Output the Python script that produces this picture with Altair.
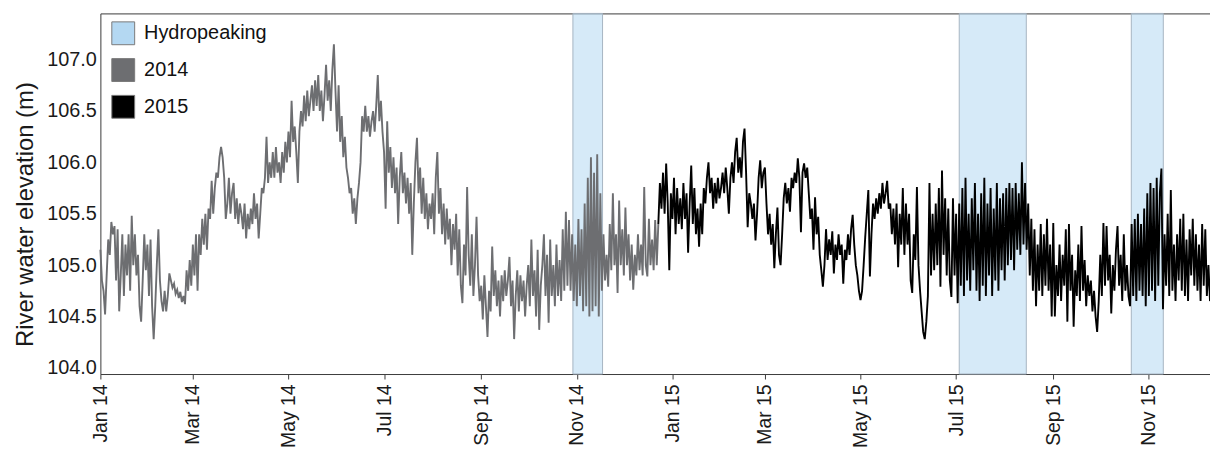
import altair as alt
import pandas as pd

# Daily river water elevation (m), one list per month
jan14 = [105.15, 104.85, 104.75, 104.52, 104.9, 105.25, 105.1, 105.42, 105.3, 105.38, 104.85, 105.35, 104.55, 104.9, 105.3, 104.7,
         105.2, 104.9, 105.3, 104.75, 105.48, 105.0, 105.3, 104.9, 105.1, 104.6, 104.45, 104.85, 105.3, 104.95, 105.2]
feb14 = [104.7, 105.25, 104.6, 104.28, 104.6, 105.0, 105.35, 104.85, 104.65, 104.55, 104.75, 104.55, 104.7, 104.92, 104.85, 104.78,
         104.82, 104.72, 104.76, 104.68, 104.74, 104.64, 104.7, 104.62, 104.95, 104.75, 105.05, 104.8]
mar14 = [105.2, 104.9, 105.3, 104.75, 105.3, 105.1, 105.45, 105.2, 105.5, 105.15, 105.55, 105.45, 105.82, 105.5, 105.75, 105.9,
         105.85, 106.05, 106.15, 106.05, 105.85, 105.45, 105.6, 105.85, 105.5, 105.7, 105.8, 105.45, 105.65, 105.4, 105.6]
apr14 = [105.5, 105.35, 105.6, 105.26, 105.5, 105.35, 105.55, 105.4, 105.7, 105.45, 105.6, 105.26, 105.5, 105.75, 105.7, 105.85,
         106.25, 105.8, 106.0, 105.85, 106.1, 105.85, 106.15, 105.9, 106.0, 105.8, 106.1, 105.9, 106.2, 106.0]
may14 = [106.3, 106.05, 106.6, 106.2, 106.35, 106.1, 105.8, 106.3, 106.5, 106.35, 106.65, 106.4, 106.7, 106.45, 106.6, 106.75,
         106.5, 106.8, 106.55, 106.85, 106.5, 106.7, 106.4, 106.65, 106.95, 106.6, 106.8, 106.5, 106.9, 107.15, 106.7]
jun14 = [106.3, 106.75, 106.2, 106.45, 106.05, 106.25, 105.95, 105.85, 105.7, 105.75, 105.5, 105.65, 105.4, 105.65, 105.8, 106.0,
         106.45, 106.3, 106.55, 106.3, 106.45, 106.25, 106.4, 106.5, 106.3, 106.55, 106.85, 106.4, 106.6, 106.3]
jul14 = [106.1, 105.55, 106.4, 105.9, 106.15, 105.75, 106.05, 105.7, 105.95, 105.4, 105.85, 106.1, 105.7, 105.9, 105.6, 105.85,
         105.5, 105.8, 105.1, 105.6, 106.0, 106.24, 105.7, 105.95, 105.5, 105.85, 105.45, 105.7, 105.35, 105.6, 105.45]
aug14 = [105.7, 105.3, 105.85, 106.1, 105.5, 105.75, 105.3, 105.6, 105.2, 105.55, 105.25, 105.45, 105.0, 105.4, 105.15, 105.5,
         104.9, 105.35, 104.8, 104.63, 105.2, 104.9, 105.76, 105.1, 104.8, 105.3, 104.7, 105.0, 105.47, 104.9, 104.65]
sep14 = [104.8, 104.47, 104.9, 104.6, 104.3, 104.75, 104.55, 105.18, 104.7, 104.95, 104.6, 104.85, 104.5, 104.9, 104.65, 104.95,
         104.7, 104.85, 105.08, 104.6, 104.85, 104.28, 104.7, 104.95, 104.55, 104.9, 104.65, 104.85, 104.5, 104.8]
oct14 = [105.0, 104.6, 105.25, 104.7, 104.95, 104.5, 105.15, 104.37, 104.8, 105.0, 105.3, 104.7, 105.1, 104.44, 105.25, 104.7,
         105.0, 104.6, 105.2, 104.7, 105.05, 104.65, 105.35, 104.75, 105.52, 104.8, 105.44, 104.75, 105.3, 104.65, 105.2]
nov14 = [104.6, 105.45, 104.7, 105.35, 104.55, 105.6, 104.6, 105.85, 104.5, 106.05, 104.55, 105.9, 104.6, 106.08, 104.5, 105.7,
         104.75, 105.3, 104.85, 105.1, 104.79, 105.4, 104.95, 105.7, 105.0, 105.3, 104.73, 105.63, 105.0, 105.35]
dec14 = [104.9, 105.56, 105.0, 105.3, 104.85, 105.2, 104.76, 105.1, 104.9, 105.3, 104.95, 105.2, 104.9, 105.76, 105.0, 104.89,
         105.45, 105.0, 105.25, 104.95, 105.44, 105.0, 105.4, 105.8, 105.55, 105.9, 105.5, 105.99, 105.6, 104.95, 105.7]
jan15 = [105.45, 105.85, 105.3, 105.75, 105.4, 105.65, 105.35, 105.8, 105.45, 105.7, 105.12, 105.6, 105.97, 105.4, 105.75, 105.3,
         105.55, 105.18, 105.6, 105.3, 105.75, 105.6, 105.85, 106.0, 105.7, 105.85, 105.55, 105.8, 105.6, 105.85, 105.65]
feb15 = [105.75, 105.9, 105.7, 105.95, 105.75, 105.5, 105.85, 106.0, 105.8, 106.1, 106.24, 105.9, 106.05, 105.85, 106.2, 106.33,
         105.9, 105.37, 105.7, 105.6, 105.45, 105.6, 105.24, 105.5, 105.85, 106.02, 105.75, 105.9]
mar15 = [105.95, 105.6, 105.3, 105.5, 105.2, 105.4, 104.97, 105.3, 105.56, 105.1, 105.0, 105.3, 105.65, 105.8, 105.6, 105.75,
         105.52, 105.85, 105.75, 105.9, 105.8, 106.04, 105.85, 105.32, 105.9, 105.99, 105.85, 105.95, 105.7, 105.45, 105.55]
apr15 = [105.15, 105.66, 105.3, 105.47, 105.1, 104.95, 104.79, 105.0, 105.35, 105.05, 105.25, 105.1, 105.33, 104.92, 105.2, 105.05,
         105.3, 105.1, 105.2, 104.82, 105.15, 105.05, 105.3, 105.1, 105.35, 105.49, 105.2, 105.0, 104.9, 104.75]
may15 = [104.66, 104.75, 105.0, 105.27, 105.5, 105.73, 104.89, 105.3, 105.6, 105.45, 105.65, 105.5, 105.7, 105.55, 105.8, 105.6,
         105.7, 105.82, 105.55, 105.6, 105.3, 105.55, 105.2, 105.6, 104.98, 105.5, 105.2, 105.75, 105.1, 105.6, 105.2]
jun15 = [105.5, 104.85, 104.73, 105.3, 105.05, 105.76, 105.0, 104.75, 104.55, 104.35, 104.28, 104.45, 104.7, 105.8, 104.9, 105.5,
         104.95, 105.6, 105.0, 105.75, 104.79, 105.92, 105.1, 105.65, 104.9, 105.55, 104.85, 104.69, 105.65, 104.9]
jul15 = [105.5, 104.63, 105.6, 104.8, 105.75, 104.7, 105.85, 104.85, 105.5, 104.75, 105.65, 104.95, 105.8, 104.75, 105.5, 104.65,
         105.7, 104.8, 105.85, 104.7, 105.6, 104.9, 105.75, 104.7, 105.55, 104.85, 105.8, 104.75, 105.65, 104.95, 105.7]
aug15 = [104.85, 105.75, 105.0, 105.8, 105.05, 105.75, 104.95, 105.8, 105.15, 105.7, 105.1, 106.0, 105.2, 105.8, 105.15, 105.6,
         104.9, 105.45, 104.75, 105.35, 104.6, 105.2, 104.75, 105.4, 104.7, 105.3, 104.8, 105.45, 104.75, 105.2, 104.5]
sep15 = [105.41, 104.5, 105.0, 104.7, 105.2, 104.65, 105.1, 104.8, 105.35, 104.45, 105.4, 104.75, 105.1, 104.4, 104.95, 104.7,
         105.2, 104.65, 105.38, 104.75, 105.05, 104.6, 104.9, 104.7, 104.85, 104.55, 104.75, 104.5, 104.35, 104.65]
oct15 = [105.1, 104.7, 105.41, 104.8, 105.38, 104.85, 105.1, 104.53, 105.0, 104.75, 105.15, 105.38, 104.8, 105.1, 104.65, 105.3,
         104.75, 105.0, 104.7, 104.6, 105.4, 104.7, 105.45, 104.65, 105.5, 104.75, 105.4, 104.7, 105.55, 104.6, 105.7]
nov15 = [104.7, 105.8, 104.75, 105.75, 104.65, 105.85, 104.8, 105.7, 105.94, 104.57, 105.3, 104.8, 105.5, 104.7, 105.73, 104.75,
         105.2, 104.65, 105.3, 104.85, 105.45, 104.75, 105.5, 104.7, 105.25, 104.65, 105.35, 104.9, 105.45, 104.8]
dec15 = [105.3, 104.75, 105.2, 104.65, 105.4, 104.8, 105.35, 104.7, 105.0, 104.65, 104.75]

month_starts = ["2014-01-01", "2014-02-01", "2014-03-01", "2014-04-01", "2014-05-01", "2014-06-01",
                "2014-07-01", "2014-08-01", "2014-09-01", "2014-10-01", "2014-11-01", "2014-12-01",
                "2015-01-01", "2015-02-01", "2015-03-01", "2015-04-01", "2015-05-01", "2015-06-01",
                "2015-07-01", "2015-08-01", "2015-09-01", "2015-10-01", "2015-11-01", "2015-12-01"]
month_values = [jan14, feb14, mar14, apr14, may14, jun14, jul14, aug14, sep14, oct14, nov14, dec14,
                jan15, feb15, mar15, apr15, may15, jun15, jul15, aug15, sep15, oct15, nov15, dec15]

season_switch = "2014-12-23"   # grey (2014) record ends, black (2015) record begins

band_start = ["2014-10-29T12:00:00", "2015-07-03T00:00:00", "2015-10-20T19:00:00"]
band_end = ["2014-11-17T10:00:00", "2015-08-14T19:00:00", "2015-11-10T05:00:00"]

legend_labels = ["Hydropeaking", "2014", "2015"]
legend_colors = ["#b4d8f2", "#6d6e71", "#000000"]
y_ticks = [104.0, 104.5, 105.0, 105.5, 106.0, 106.5, 107.0]

# ---- build tables ----
rows = []
for start, vals in zip(month_starts, month_values):
    for d, v in zip(pd.date_range(start, periods=len(vals), freq="D"), vals):
        rows.append((d, v))
series = pd.DataFrame(rows, columns=["date", "elev"])
sw = pd.Timestamp(season_switch)
s14 = series[series["date"] <= sw].assign(season="2014")
s15 = series[series["date"] >= sw].assign(season="2015")
lines_df = pd.concat([s14, s15], ignore_index=True)
lines_df["date"] = lines_df["date"].dt.strftime("%Y-%m-%dT%H:%M:%S")

bands_df = pd.DataFrame({"start": band_start, "end": band_end, "label": ["Hydropeaking"] * 3})

x_domain = [alt.DateTime(year=2014, month=1, date=1), alt.DateTime(year=2015, month=12, date=10)]
x_ticks = [alt.DateTime(year=y, month=m, date=1) for y in (2014, 2015) for m in (1, 3, 5, 7, 9, 11)]
xscale = alt.Scale(domain=x_domain)
yscale = alt.Scale(domain=[103.94, 107.45], nice=False, zero=False)

bands = alt.Chart(bands_df).mark_rect(fillOpacity=0.55, stroke="#a6b4c2", strokeWidth=1).encode(
    x=alt.X("start:T", scale=xscale,
            axis=alt.Axis(orient="top", labels=False, ticks=False, title=None, domain=True, grid=False)),
    x2="end:T",
    fill=alt.Fill("label:N", scale=alt.Scale(domain=legend_labels, range=legend_colors),
                  legend=alt.Legend(title=None, orient="none", legendX=11, legendY=8,
                                    symbolType="square", symbolSize=529,
                                    symbolStrokeColor="#7a7a7a", symbolStrokeWidth=1,
                                    symbolOpacity=1,
                                    labelFontSize=20, labelFont="Liberation Sans",
                                    labelColor="#111111", labelOffset=9, rowPadding=9, padding=0)),
)

lines = alt.Chart(lines_df).mark_line(strokeWidth=1.9, interpolate="linear").encode(
    x=alt.X("date:T", scale=xscale,
            axis=alt.Axis(orient="bottom", values=x_ticks, format="%b %y", labelAngle=270,
                          tickSize=5, labelPadding=5, title=None, grid=False,
                          labelFontSize=19.5, labelOverlap=False)),
    y=alt.Y("elev:Q", scale=yscale,
            axis=alt.Axis(values=y_ticks, format=".1f", ticks=False, labelPadding=4, grid=False,
                          labelFontSize=20, title="River water elevation (m)", titleFontSize=24,
                          titleFontWeight="normal", titleX=-63, titleY=202, titleAngle=270,
                          titleBaseline="bottom", titleAlign="center")),
    stroke=alt.Stroke("season:N", scale=alt.Scale(domain=["2014", "2015"], range=["#6d6e71", "#000000"]),
                      legend=None),
    detail="season:N",
)

chart = alt.layer(bands, lines).resolve_axis(x="independent").properties(
    width=1117, height=363,
    autosize=alt.AutoSizeParams(type="none"),
    padding={"left": 93, "top": 4, "right": 0, "bottom": 72},
).configure_view(stroke=None).configure_axis(
    labelFont="Liberation Sans", titleFont="Liberation Sans", labelColor="#1a1a1a",
    titleColor="#1a1a1a", domainColor="#3a3a3a", tickColor="#3a3a3a", domainWidth=1,
)

chart.save("out.html", embed_options={"renderer": "svg", "actions": False})
